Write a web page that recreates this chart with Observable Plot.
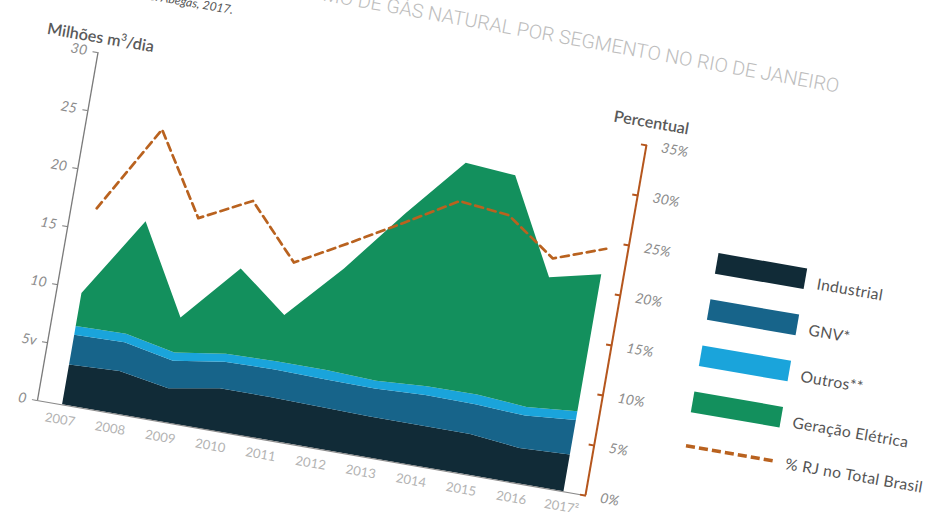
<!DOCTYPE html>
<html>
<head>
<meta charset="utf-8">
<script src="https://cdn.jsdelivr.net/npm/d3@7"></script>
<script src="https://cdn.jsdelivr.net/npm/@observablehq/plot@0.6"></script>
<style>
  html, body { margin: 0; padding: 0; width: 927px; height: 512px; overflow: hidden; background: #ffffff; }
  #sheet { position: absolute; left: 0; top: 0; width: 1000px; height: 600px; transform-origin: 0 0; font-family: Lato, "Open Sans", sans-serif; }
  #sheet svg { position: absolute; left: 0; top: 0; }
  #sheet .abs { position: absolute; white-space: nowrap; line-height: 1; }
  #title { right: 172px; top: 43px; font-family: Roboto, Lato, sans-serif; font-size: 19.5px; font-weight: 300; letter-spacing: 0px; color: #bdbdbd; transform: rotate(0.3deg); transform-origin: 100% 100%; }
  #source { right: 775px; top: 75px; font-size: 12px; font-style: italic; color: #555; }
  #ylab { left: 47px; top: 121px; font-size: 16px; font-weight: 600; color: #5a5a5a; }
  #ylab sup { font-size: 10px; }
  #pctlab { left: 614px; top: 112px; font-size: 16px; font-weight: 600; color: #5a5a5a; }
  .sw { position: absolute; width: 89px; height: 21px; }
  .lg { position: absolute; left: 840px; font-size: 15.5px; letter-spacing: 0.3px; color: #555; white-space: nowrap; line-height: 1; }
</style>
</head>
<body>
<div id="sheet"></div>
<script>
// ---- data ----
const years = [2007, 2008, 2009, 2010, 2011, 2012, 2013, 2014, 2015, 2016, 2017];
const yearLabels = ["2007", "2008", "2009", "2010", "2011", "2012", "2013", "2014", "2015", "2016", "2017²"];
const segments = ["Industrial", "GNV*", "Outros**", "Geração Elétrica"];
const segColors = ["#112b37", "#17648a", "#1aa4db", "#13905d"];
const industrial = [3.7, 3.9, 3.1, 3.9, 3.9, 3.8, 3.7, 3.7, 3.7, 3.2, 3.4];
const gnv = [2.75, 2.65, 2.55, 2.45, 2.55, 2.55, 2.6, 2.8, 2.75, 3.0, 3.2];
const outros = [0.8, 0.8, 0.75, 0.75, 0.75, 0.85, 0.7, 0.8, 0.9, 0.8, 0.8];
const geracao = [3.05, 10.4, 3.25, 7.9, 4.3, 9.4, 15.5, 20.7, 20.3, 12.0, 12.7];
const pctRJ = [18.2, 26.3, 18.9, 21.3, 16.4, 19.0, 21.7, 24.5, 24.0, 20.8, 22.5];
const lineLabel = "% RJ no Total Brasil";
const lineColor = "#b9621f";
const axisOrange = "#b5561d";
const leftTicks = [0, 5, 10, 15, 20, 25, 30];
const leftTickLabels = ["0", "5v", "10", "15", "20", "25", "30"];
const rightTicks = [0, 5, 10, 15, 20, 25, 30, 35];
const titleText = "CONSUMO DE GÁS NATURAL POR SEGMENTO NO RIO DE JANEIRO";
const sourceText = "Fonte: Abegas, 2017.";

// ---- tables built from the arrays ----
const seriesValues = [industrial, gnv, outros, geracao];
const rows = [];
segments.forEach((s, k) => years.forEach((y, i) => rows.push({year: y, segment: s, value: seriesValues[k][i]})));
const pctRows = years.map((y, i) => ({year: y, pct: pctRJ[i]}));

const xDomain = [2006.5, 2017.43];
const yMax = d3.max(rightTicks);
const leftMax = d3.max(leftTicks);

// the photographed page is tilted with perspective: the left edge is nearer (taller) than the right,
// so each axis gets its own vertical pixel size; the data panel uses the average.
const frame = {width: 720, height: 540, marginLeft: 100, marginRight: 70, marginBottom: 40};
function makePlot(unitPx, marks, showX, showY) {
  return Plot.plot({
    ...frame,
    marginTop: frame.height - frame.marginBottom - yMax * unitPx,
    style: {background: "transparent", fontFamily: "Lato, 'Open Sans', sans-serif", overflow: "visible"},
    x: {domain: xDomain, axis: showX ? undefined : null},
    y: {domain: [0, yMax], axis: showY ? undefined : null},
    color: {domain: segments, range: segColors},
    marks
  });
}

const dataPlot = makePlot(11, [
  Plot.areaY(rows, {x: "year", y: "value", fill: "segment", order: segments}),
  Plot.ruleY([0], {stroke: "#8a8a8a", strokeWidth: 1.2}),
  Plot.line(pctRows, {x: "year", y: "pct", stroke: lineColor, strokeWidth: 2.7, strokeDasharray: "8,5"}),
  Plot.axisX(years, {tickSize: 0, tickPadding: 10, fontSize: 13, fill: "#b3b3b3",
    tickFormat: d => yearLabels[years.indexOf(d)], label: null})
], true, false);

const leftPlot = makePlot(11.81, [
  Plot.ruleX([xDomain[0]], {y1: 0, y2: leftMax, stroke: "#7a7a7a", strokeWidth: 1.3}),
  Plot.axisY(leftTicks, {anchor: "left", tickSize: 5, tickPadding: 6, fontSize: 14, fontStyle: "italic",
    fill: "#8c8c8c", stroke: "#7a7a7a", tickFormat: d => leftTickLabels[leftTicks.indexOf(d)], label: null})
], false, true);

const rightPlot = makePlot(10.19, [
  Plot.ruleX([xDomain[1]], {y1: 0, y2: yMax, stroke: axisOrange, strokeWidth: 2}),
  Plot.axisY(rightTicks, {anchor: "right", tickSize: 6, dx: -6, tickPadding: 15, fontSize: 14, fontStyle: "italic",
    fill: "#8c8c8c", stroke: axisOrange, strokeWidth: 2, tickFormat: d => d + "%", label: null})
], false, true);

const sheet = document.getElementById("sheet");
[dataPlot, leftPlot, rightPlot].forEach(p => sheet.appendChild(p));

function addText(id, html) {
  const el = document.createElement("div");
  el.id = id; el.className = "abs"; el.innerHTML = html;
  sheet.appendChild(el);
}
addText("title", titleText);
addText("source", sourceText);
addText("ylab", "Milhões m<sup>3</sup>/dia");
addText("pctlab", "Percentual");

// legend
const legTop = 238, legGap = 47;
segments.forEach((s, k) => {
  const sw = document.createElement("div");
  sw.className = "sw";
  sw.style.left = "739px";
  sw.style.top = (legTop + k * legGap) + "px";
  sw.style.background = segColors[k];
  sheet.appendChild(sw);
  const lb = document.createElement("div");
  lb.className = "lg";
  lb.style.top = (legTop + k * legGap + 6) + "px";
  lb.textContent = s;
  sheet.appendChild(lb);
});
const ns = "http://www.w3.org/2000/svg";
const dl = document.createElementNS(ns, "svg");
dl.setAttribute("width", 90); dl.setAttribute("height", 8);
dl.style.left = "739px"; dl.style.top = (legTop + 4 * legGap + 4) + "px";
const ln = document.createElementNS(ns, "line");
ln.setAttribute("x1", 1); ln.setAttribute("x2", 88); ln.setAttribute("y1", 4); ln.setAttribute("y2", 4);
ln.setAttribute("stroke", lineColor); ln.setAttribute("stroke-width", 3.5); ln.setAttribute("stroke-dasharray", "9,4");
dl.appendChild(ln);
sheet.appendChild(dl);
const lb2 = document.createElement("div");
lb2.className = "lg";
lb2.style.top = (legTop + 4 * legGap + 1) + "px";
lb2.textContent = lineLabel;
sheet.appendChild(lb2);

// tilted photo look: affine transform of the whole sheet
sheet.style.transform = "matrix(0.9964, 0.1727, -0.171, 0.982, 22.86, -108.27)";
</script>
</body>
</html>
